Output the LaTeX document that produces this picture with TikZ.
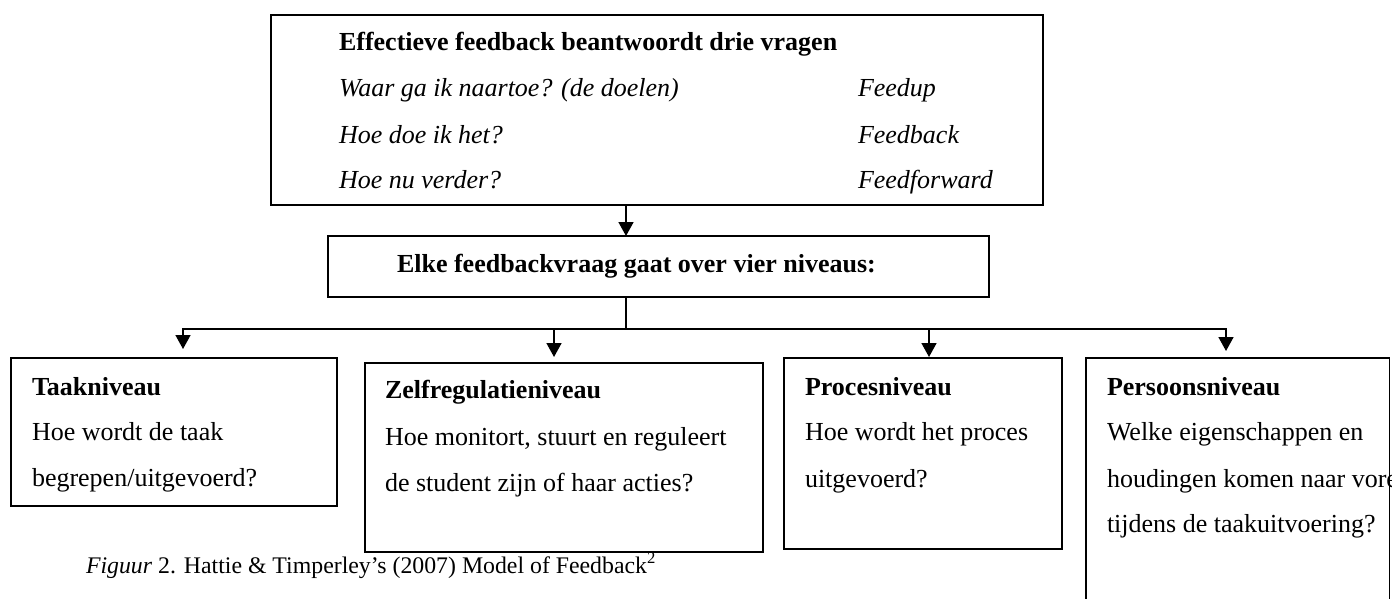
\documentclass[tikz,border=0pt]{standalone}
\usepackage{fontspec}
\setmainfont{Liberation Serif}
\usetikzlibrary{arrows.meta}
\begin{document}
\begin{tikzpicture}[x=1pt,y=-1pt,
  box/.style={draw, line width=1.6pt, rectangle, inner sep=0pt, outer sep=0pt, anchor=north west},
  txt/.style={anchor=base west, inner sep=0pt, outer sep=0pt, font=\fontsize{26}{30}\selectfont},
  ttl/.style={txt, font=\fontsize{26}{30}\selectfont\bfseries},
  itx/.style={txt, font=\fontsize{26}{30}\selectfont\itshape},
  captxt/.style={anchor=base west, inner sep=0pt, outer sep=0pt, font=\fontsize{23.8}{28}\selectfont},
  conn/.style={line width=1.6pt},
  arr/.style={conn, -{Triangle[width=15pt,length=14pt]}}]
\useasboundingbox (0,0) rectangle (1392,599);
\clip (0,0) rectangle (1392,599);

% boxes
\node[box, minimum width=772pt, minimum height=190pt] (top) at (271,15) {};
\node[box, minimum width=661pt, minimum height=61pt] (mid) at (328,236) {};
\node[box, minimum width=326pt, minimum height=148pt] (taak) at (11,358) {};
\node[box, minimum width=398pt, minimum height=189pt] (zelf) at (365,363) {};
\node[box, minimum width=278pt, minimum height=191pt] (proc) at (784,358) {};
\node[box, minimum width=303.5pt, minimum height=300pt] (pers) at (1086,358) {};

% top box texts
\node[ttl] (t0) at (339,51) {Effectieve feedback beantwoordt drie vragen};
\node[itx] (q1) at (339,97) {Waar ga ik naartoe? (de doelen)};
\node[itx] (q2) at (339,143) {Hoe doe ik het?};
\node[itx] (q3) at (339,188) {Hoe nu verder?};
\node[itx] (f1) at (858,97) {Feedup};
\node[itx] (f2) at (858,143) {Feedback};
\node[itx] (f3) at (858,188) {Feedforward};

% middle box text
\node[ttl] (m0) at (397,272) {Elke feedbackvraag gaat over vier niveaus:};

% level boxes texts
\node[ttl] (ta0) at (32,395) {Taakniveau};
\node[txt] (ta1) at (32,440) {Hoe wordt de taak};
\node[txt] (ta2) at (32,486) {begrepen/uitgevoerd?};

\node[ttl] (ze0) at (385,398) {Zelfregulatieniveau};
\node[txt] (ze1) at (385,445) {Hoe monitort, stuurt en reguleert};
\node[txt] (ze2) at (385,491) {de student zijn of haar acties?};

\node[ttl] (pr0) at (805,395) {Procesniveau};
\node[txt] (pr1) at (805,440) {Hoe wordt het proces};
\node[txt] (pr2) at (805,487) {uitgevoerd?};

\node[ttl] (pe0) at (1107,395) {Persoonsniveau};
\node[txt] (pe1) at (1107,440) {Welke eigenschappen en};
\node[txt] (pe2) at (1107,487) {houdingen komen naar voren};
\node[txt] (pe3) at (1107,532) {tijdens de taakuitvoering?};

% caption
\node[captxt] (capt) at (86,573) {\textit{Figuur} 2. Hattie \& Timperley’s (2007) Model of Feedback\textsuperscript{2}};

% connectors
\coordinate (c0) at (626,205);
\coordinate (h1) at (183,329);
\coordinate (h2) at (554,329);
\coordinate (h3) at (929,329);
\coordinate (h4) at (1226,329);
\draw[arr] (top.south -| c0) -- (mid.north -| c0);
\draw[conn] (mid.south -| c0) -- (c0 |- h1);
\draw[conn, line cap=rect] (h1) -- (h4);
\draw[arr, shorten >=9pt] (h1) -- (h1 |- taak.north);
\draw[arr, shorten >=6pt] (h2) -- (h2 |- zelf.north);
\draw[arr, shorten >=1pt] (h3) -- (h3 |- proc.north);
\draw[arr, shorten >=7pt] (h4) -- (h4 |- pers.north);
\end{tikzpicture}
\end{document}
